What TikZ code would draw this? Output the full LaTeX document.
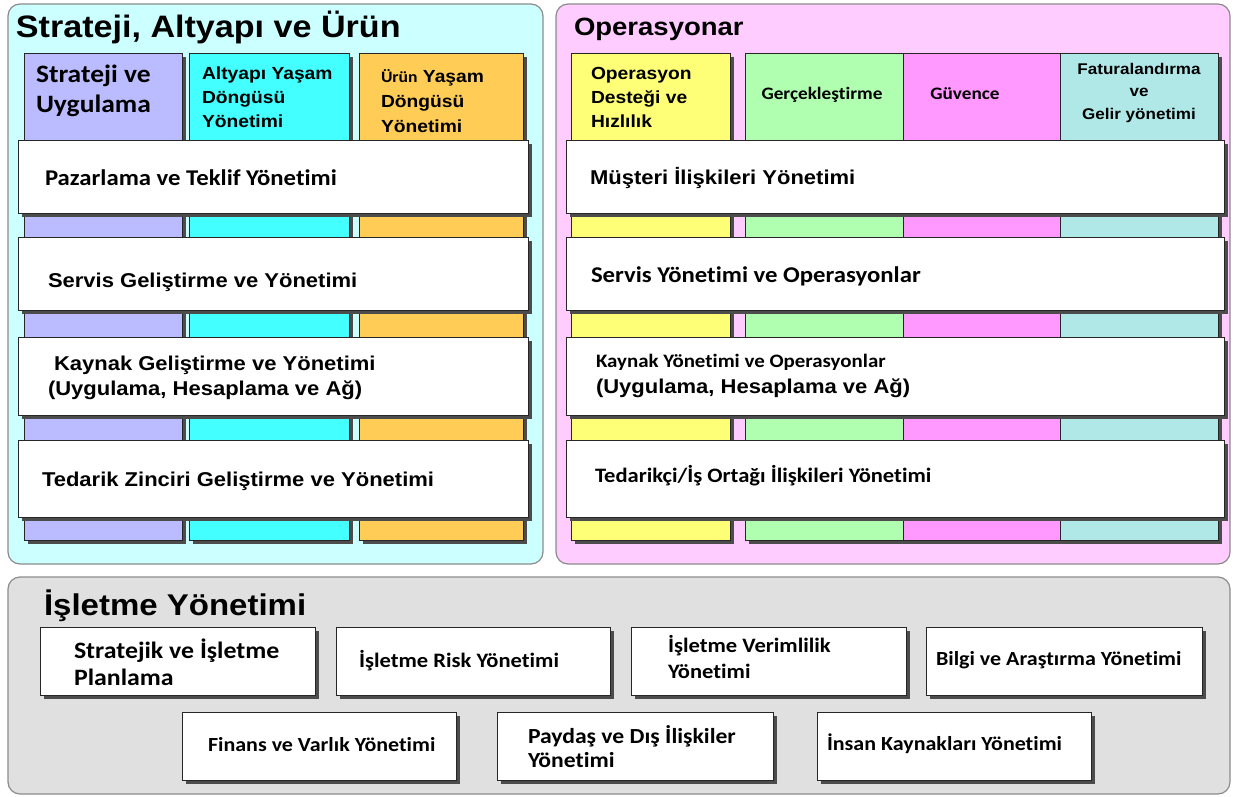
\documentclass[tikz,border=0pt]{standalone}
\usepackage{fontspec}
\usetikzlibrary{shadows}
\newfontfamily\ArialLike[FakeStretch=1.1, Ligatures=NoCommon]{Liberation Sans}
\newfontfamily\CalibriLike[FakeStretch=1.1, Ligatures=NoCommon]{Carlito}
\newcommand\ArB[1]{\ArialLike\bfseries\fontsize{#1}{#1}\selectfont}
\newcommand\CaB[1]{\CalibriLike\bfseries\fontsize{#1}{#1}\selectfont}

\definecolor{panelL}{HTML}{CCFFFF}
\definecolor{panelR}{HTML}{FFCCFF}
\definecolor{panelB}{HTML}{E0E0E0}
\definecolor{cPurple}{HTML}{BBBBFF}
\definecolor{cCyan}{HTML}{44FFFF}
\definecolor{cOrange}{HTML}{FFCC55}
\definecolor{cYellow}{HTML}{FFFF77}
\definecolor{cGreen}{HTML}{B0FFB0}
\definecolor{cPink}{HTML}{FF99FF}
\definecolor{cTeal}{HTML}{B0E8E8}

\tikzset{
  panel/.style={draw=black!45, line width=1.2pt, rounded corners=12pt,
    inner sep=0pt, outer sep=0pt, anchor=north west},
  cell/.style={draw=black!85, line width=0.9pt, inner sep=0pt, outer sep=0pt,
    anchor=north west,
    drop shadow={shadow xshift=4pt, shadow yshift=-4pt, fill=black!70, opacity=1}},
  bar/.style={cell, fill=white},
  lbl/.style={anchor=base west, inner sep=0pt, outer sep=0pt},
  clbl/.style={anchor=base, inner sep=0pt, outer sep=0pt},
}

\begin{document}
\begin{tikzpicture}[x=1pt, y=-1pt]
\useasboundingbox (0,0) rectangle (1233,797);
\fill[white] (0,0) rectangle (1233,797);

% ---------- panels ----------
\node[panel, fill=panelL, minimum width=535pt, minimum height=560pt] (pSAU) at (8,4) {};
\node[panel, fill=panelR, minimum width=674pt, minimum height=560pt] (pOP) at (556,4) {};
\node[panel, fill=panelB, minimum width=1222pt, minimum height=217pt] (pIY) at (8,577) {};

\node[lbl, font=\ArB{31}] (tSAU) at (16,38) {Strateji, Altyapı ve Ürün};
\node[lbl, font=\ArB{25}] (tOP) at (574,36) {Operasyonar};
\node[lbl, font=\ArB{30}] (tIY) at (44,615) {İşletme Yönetimi};

% ---------- vertical columns, left panel ----------
\node[cell, fill=cPurple, minimum width=158pt, minimum height=487pt] (cSU) at (24,53) {};
\node[cell, fill=cCyan,   minimum width=160pt, minimum height=487pt] (cAY) at (189,53) {};
\node[cell, fill=cOrange, minimum width=164pt, minimum height=487pt] (cUY) at (359,53) {};

% ---------- vertical columns, right panel ----------
\node[cell, fill=cYellow, minimum width=159pt, minimum height=487pt] (cOD) at (571,53) {};
\node[cell, fill=cGreen,  minimum width=158pt, minimum height=487pt] (cGE) at (745,53) {};
\node[cell, fill=cPink,   minimum width=157pt, minimum height=487pt] (cGU) at (903,53) {};
\node[cell, fill=cTeal,   minimum width=158pt, minimum height=487pt] (cFG) at (1060,53) {};

% column headings
\node[lbl, font=\CaB{25}] (hSU1) at (36,83) {Strateji ve};
\node[lbl, font=\CaB{25}] (hSU2) at (36,113) {Uygulama};
\node[lbl, font=\ArB{17.5}] (hAY1) at (202,80) {Altyapı Yaşam};
\node[lbl, font=\ArB{17.5}] (hAY2) at (202,103) {Döngüsü};
\node[lbl, font=\ArB{17.5}] (hAY3) at (202,128) {Yönetimi};
\node[lbl, font=\ArB{17.5}] (hUY1) at (381,83) {{\CaB{16}Ürün} Yaşam};
\node[lbl, font=\ArB{17.5}] (hUY2) at (381,107) {Döngüsü};
\node[lbl, font=\ArB{17.5}] (hUY3) at (381,132) {Yönetimi};
\node[lbl, font=\ArB{17.5}] (hOD1) at (591,80) {Operasyon};
\node[lbl, font=\ArB{17.5}] (hOD2) at (591,103) {Desteği ve};
\node[lbl, font=\ArB{17.5}] (hOD3) at (591,128) {Hızlılık};
\node[clbl, font=\CaB{17.5}] (hGE) at (822,100) {Gerçekleştirme};
\node[clbl, font=\CaB{17.5}] (hGU) at (965,100) {Güvence};
\node[clbl, font=\ArB{15.5}] (hFG1) at (1139,75) {Faturalandırma};
\node[clbl, font=\ArB{15.5}] (hFG2) at (1139,97) {ve};
\node[clbl, font=\ArB{15.5}] (hFG3) at (1139,120) {Gelir yönetimi};

% ---------- horizontal bars, left panel ----------
\node[bar, minimum width=510pt, minimum height=73pt] (bPT) at (18,140) {};
\node[bar, minimum width=510pt, minimum height=73pt] (bSG) at (18,237) {};
\node[bar, minimum width=510pt, minimum height=78pt] (bKG) at (18,337) {};
\node[bar, minimum width=510pt, minimum height=77pt] (bTZ) at (18,440) {};

\node[lbl, font=\CaB{22.5}] (xPT) at (45,185) {Pazarlama ve Teklif Yönetimi};
\node[lbl, font=\ArB{20}] (xSG) at (48,287) {Servis Geliştirme ve Yönetimi};
\node[lbl, font=\ArB{20}] (xKG1) at (54,370) {Kaynak Geliştirme ve Yönetimi};
\node[lbl, font=\ArB{20}] (xKG2) at (48,395) {(Uygulama, Hesaplama ve Ağ)};
\node[lbl, font=\ArB{20}] (xTZ) at (42,486) {Tedarik Zinciri Geliştirme ve Yönetimi};

% ---------- horizontal bars, right panel ----------
\node[bar, minimum width=658pt, minimum height=73pt] (bMI) at (566,140) {};
\node[bar, minimum width=658pt, minimum height=73pt] (bSY) at (566,237) {};
\node[bar, minimum width=658pt, minimum height=78pt] (bKY) at (566,337) {};
\node[bar, minimum width=658pt, minimum height=77pt] (bTI) at (566,440) {};

\node[lbl, font=\ArB{20}] (xMI) at (590,184) {Müşteri İlişkileri Yönetimi};
\node[lbl, font=\CaB{22.5}] (xSY) at (591,282) {Servis Yönetimi ve Operasyonlar};
\node[lbl, font=\CaB{19}] (xKY1) at (596,367) {Kaynak Yönetimi ve Operasyonlar};
\node[lbl, font=\ArB{20}] (xKY2) at (596,393) {(Uygulama, Hesaplama ve Ağ)};
\node[lbl, font=\CaB{20.5}] (xTI) at (595,482) {Tedarikçi/İş Ortağı İlişkileri Yönetimi};

% ---------- enterprise management boxes ----------
\node[bar, minimum width=275pt, minimum height=68pt] (eSP) at (40,627) {};
\node[bar, minimum width=274pt, minimum height=68pt] (eRY) at (336,627) {};
\node[bar, minimum width=275pt, minimum height=68pt] (eVY) at (631,627) {};
\node[bar, minimum width=276pt, minimum height=68pt] (eBA) at (926,627) {};
\node[bar, minimum width=274pt, minimum height=68pt] (eFV) at (182,712) {};
\node[bar, minimum width=276pt, minimum height=68pt] (ePD) at (497,712) {};
\node[bar, minimum width=274pt, minimum height=68pt] (eIK) at (817,712) {};

\node[lbl, font=\CaB{23.5}] (ySP1) at (74,658) {Stratejik ve İşletme};
\node[lbl, font=\CaB{23.5}] (ySP2) at (74,685) {Planlama};
\node[lbl, font=\CaB{20.5}] (yRY) at (359,667) {İşletme Risk Yönetimi};
\node[lbl, font=\CaB{20.5}] (yVY1) at (668,652) {İşletme Verimlilik};
\node[lbl, font=\CaB{20.5}] (yVY2) at (668,678) {Yönetimi};
\node[lbl, font=\CaB{20}] (yBA) at (936,665) {Bilgi ve Araştırma Yönetimi};
\node[lbl, font=\CaB{20}] (yFV) at (208,751) {Finans ve Varlık Yönetimi};
\node[lbl, font=\CaB{21.5}] (yPD1) at (528,743) {Paydaş ve Dış İlişkiler};
\node[lbl, font=\CaB{21.5}] (yPD2) at (528,767) {Yönetimi};
\node[lbl, font=\CaB{20}] (yIK) at (827,750) {İnsan Kaynakları Yönetimi};
\end{tikzpicture}
\end{document}
